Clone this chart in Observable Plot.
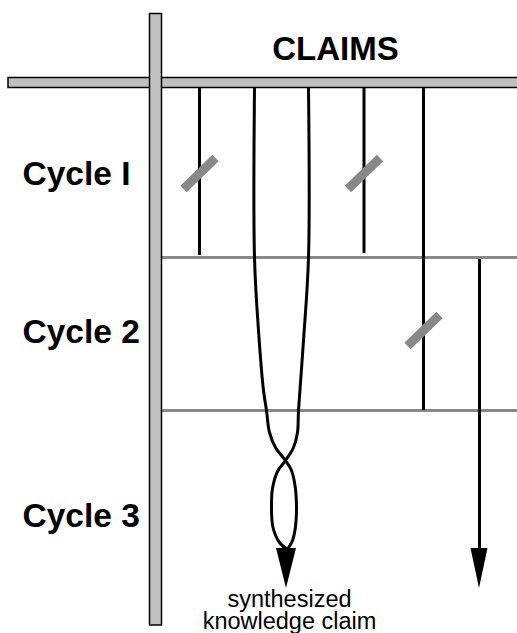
<!DOCTYPE html>
<html>
<head>
<meta charset="utf-8">
<script src="https://cdn.jsdelivr.net/npm/d3@7"></script>
<script src="https://cdn.jsdelivr.net/npm/@observablehq/plot@0.6"></script>
<style>
  html, body { margin: 0; padding: 0; background: #fff; overflow: hidden; }
</style>
</head>
<body>
<div id="chart"></div>
<script>
// ---- Diagram data (diagram units = page pixels) ----
const title = "CLAIMS";
const titleX = 335, titleTop = 36;

const cycleLabels = ["Cycle I", "Cycle 2", "Cycle 3"];
const cycleLabelTop = [161, 319, 503];
const cycleLabelX = 22;

const cycleBoundaryY = [257, 410];        // horizontal grey lines between cycles
const boundaryStartX = 162;

// the two framing bars (time axis and claims axis)
const claimsAxis = [{x1: 8, x2: 520, y1: 77.5, y2: 87.5}];
const timeAxis = [{x1: 149.5, x2: 161.5, y1: 13.5, y2: 625}];

// claims that start at the top
const claimX = [199, 254, 308, 363.5, 423];
const claimStartY = 88;
const claimEndY = [255, null, null, 253, 410];   // null = merges (drawn as strands)

// rejected claims (slash marks): claim index and vertical position
const rejections = [
  {claim: 0, y: 173},
  {claim: 3, y: 173},
  {claim: 4, y: 330}
];

// new claim appearing in cycle 2
const newClaim = {x: 479, y1: 259, y2: 549};

// two claims that intertwine into a synthesized claim
const strandA = [
  [254, 88], [254, 257], [258, 330], [263, 390], [266, 410], [269, 432],
  [275, 447], [285, 460], [291, 470], [294.5, 485], [296, 507],
  [295, 526], [292, 540], [287, 549]
];
const strandB = [
  [308, 88], [308, 257], [303, 340], [298, 410], [297, 432], [293, 447],
  [285, 460], [277, 471], [272, 488], [271, 507], [272.5, 527], [279, 542], [287, 549]
];

// arrowheads
const arrowheads = [
  {id: "synth", x: 286, top: 548, tip: 588, half: 10},
  {id: "new", x: 479, top: 548, tip: 588, half: 8.5}
];

const caption = "synthesized\nknowledge claim";
const captionX = 289, captionTop = 591;

// ---- Build mark tables ----
const claimLines = claimX
  .map((x, i) => ({x, y1: claimStartY, y2: claimEndY[i]}))
  .filter(d => d.y2 != null);
const strands = [
  ...strandA.map(([x, y]) => ({id: "A", x, y})),
  ...strandB.map(([x, y]) => ({id: "B", x, y}))
];
const headPts = arrowheads.flatMap(d => [
  {id: d.id, y: d.top, x1: d.x - d.half, x2: d.x + d.half},
  {id: d.id, y: d.tip, x1: d.x, x2: d.x}
]);
const cycles = cycleLabels.map((label, i) => ({label, y: cycleLabelTop[i]}));

const W = 517, H = 633;
const font = "'Liberation Sans', Arial, Helvetica, sans-serif";

const chart = Plot.plot({
  width: W,
  height: H,
  margin: 0,
  x: {domain: [0, W], range: [0, W], axis: null},
  y: {domain: [0, H], range: [0, H], axis: null},
  style: {fontFamily: font, background: "#fff", overflow: "hidden"},
  marks: [
    // cycle boundaries
    Plot.ruleY(cycleBoundaryY, {x1: boundaryStartX, x2: W, stroke: "#888", strokeWidth: 3}),
    // claims axis bar
    Plot.rect(claimsAxis, {x1: "x1", x2: "x2", y1: "y1", y2: "y2", fill: "#c0c0c0", stroke: "#000", strokeWidth: 1.5}),
    // straight claim lines
    Plot.ruleX(claimLines, {x: "x", y1: "y1", y2: "y2", stroke: "#000", strokeWidth: 3}),
    // new claim
    Plot.ruleX([newClaim], {x: "x", y1: "y1", y2: "y2", stroke: "#000", strokeWidth: 3}),
    // intertwining strands
    Plot.line(strands, {x: "x", y: "y", z: "id", curve: "catmull-rom", stroke: "#000", strokeWidth: 3}),
    // arrowheads
    Plot.areaX(headPts, {y: "y", x1: "x1", x2: "x2", z: "id", fill: "#000", curve: "linear"}),
    // rejection slashes
    Plot.link(rejections, {
      x1: d => claimX[d.claim] - 16, y1: d => d.y + 15.5,
      x2: d => claimX[d.claim] + 16, y2: d => d.y - 15.5,
      stroke: "#888", strokeWidth: 9, strokeLinecap: "butt"
    }),
    // time axis bar (on top)
    Plot.rect(timeAxis, {x1: "x1", x2: "x2", y1: "y1", y2: "y2", fill: "#c0c0c0", stroke: "#000", strokeWidth: 1.5}),
    // texts
    Plot.text([title], {x: () => titleX, y: () => titleTop, text: d => d, fontSize: 33, fontWeight: "bold", lineAnchor: "top", textAnchor: "middle", fill: "#000"}),
    Plot.text(cycles, {x: () => cycleLabelX, y: "y", text: "label", fontSize: 33.5, fontWeight: "bold", lineAnchor: "top", textAnchor: "start", fill: "#000"}),
    Plot.text([caption], {x: () => captionX, y: () => captionTop, text: d => d, fontSize: 23.5, lineHeight: 0.94, lineAnchor: "top", textAnchor: "middle", fill: "#000"})
  ]
});
document.getElementById("chart").appendChild(chart);
</script>
</body>
</html>
